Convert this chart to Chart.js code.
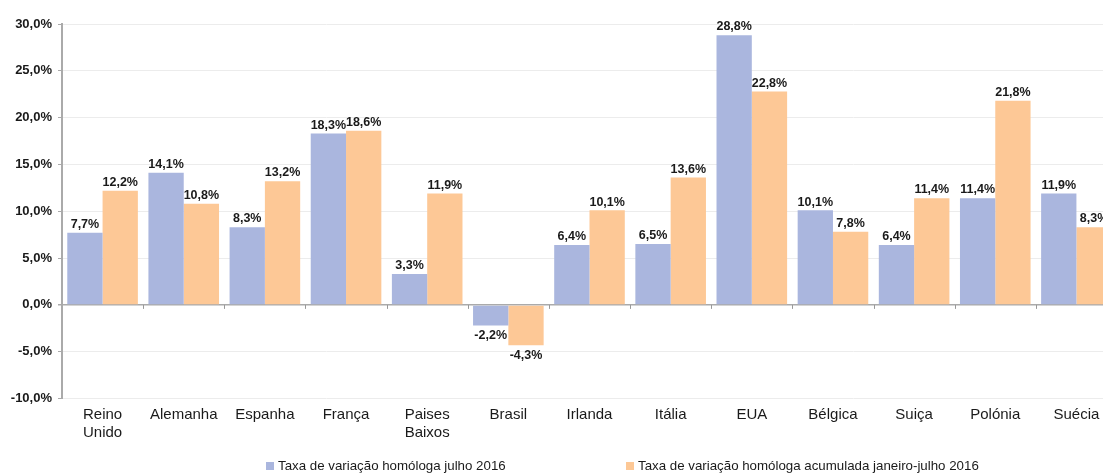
<!DOCTYPE html>
<html>
<head>
<meta charset="utf-8">
<script src="https://cdn.jsdelivr.net/npm/chart.js@4.4.1/dist/chart.umd.min.js"></script>
<style>
  html, body { margin: 0; padding: 0; background: #fff; overflow: hidden; }
  #wrap { width: 1120px; height: 475px; position: relative; }
</style>
</head>
<body>
<div id="wrap"><canvas id="chart"></canvas></div>
<script>
const countries = [['Reino', 'Unido'], 'Alemanha', 'Espanha', 'França', ['Paises', 'Baixos'], 'Brasil',
  'Irlanda', 'Itália', 'EUA', 'Bélgica', 'Suiça', 'Polónia', 'Suécia'];
const julho2016 = [7.7, 14.1, 8.3, 18.3, 3.3, -2.2, 6.4, 6.5, 28.8, 10.1, 6.4, 11.4, 11.9];
const acumulada2016 = [12.2, 10.8, 13.2, 18.6, 11.9, -4.3, 10.1, 13.6, 22.8, 7.8, 11.4, 21.8, 8.3];
const seriesNames = ['Taxa de variação homóloga julho 2016', 'Taxa de variação homóloga acumulada janeiro-julho 2016'];
const yTicks = [-10, -5, 0, 5, 10, 15, 20, 25, 30];

const BLUE = '#aab6de';
const ORANGE = '#fdc896';
const FONT = '"Liberation Sans", Arial, sans-serif';

function pct(v) {
  return v.toFixed(1).replace('.', ',') + '%';
}

// value labels above / below the bars
const valueLabels = {
  id: 'valueLabels',
  afterDatasetsDraw(chart) {
    const ctx = chart.ctx;
    ctx.save();
    ctx.font = 'bold 12.5px ' + FONT;
    ctx.fillStyle = '#1a1a1a';
    ctx.textAlign = 'center';
    chart.data.datasets.forEach((ds, i) => {
      chart.getDatasetMeta(i).data.forEach((bar, j) => {
        const v = ds.data[j];
        if (v >= 0) {
          ctx.textBaseline = 'bottom';
          ctx.fillText(pct(v), bar.x, bar.y - 2);
        } else {
          ctx.textBaseline = 'top';
          ctx.fillText(pct(v), bar.x, bar.y + 4);
        }
      });
    });
    ctx.restore();
  }
};

// small tick marks on the zero line and the legend at the bottom
const extras = {
  id: 'extras',
  afterDraw(chart) {
    const ctx = chart.ctx;
    const y0 = chart.scales.y.getPixelForValue(0);
    ctx.save();
    ctx.strokeStyle = '#999';
    ctx.lineWidth = 1;
    const n = chart.data.labels.length;
    const step = (chart.chartArea.right - chart.chartArea.left) / n;
    for (let i = 1; i <= n; i++) {
      const px = Math.round(chart.chartArea.left + i * step) + 0.5;
      ctx.beginPath();
      ctx.moveTo(px, y0);
      ctx.lineTo(px, y0 + 4);
      ctx.stroke();
    }

    // legend
    ctx.font = '13.3px ' + FONT;
    ctx.textBaseline = 'middle';
    ctx.textAlign = 'left';
    const ly = 466;
    const items = [[266, BLUE, seriesNames[0]], [626, ORANGE, seriesNames[1]]];
    items.forEach(([lx, col, txt]) => {
      ctx.fillStyle = col;
      ctx.fillRect(lx, ly - 4, 8, 8);
      ctx.fillStyle = '#1a1a1a';
      ctx.fillText(txt, lx + 12, ly);
    });
    ctx.restore();
  }
};

new Chart(document.getElementById('chart'), {
  type: 'bar',
  data: {
    labels: countries,
    datasets: [
      { label: seriesNames[0], data: julho2016, backgroundColor: BLUE },
      { label: seriesNames[1], data: acumulada2016, backgroundColor: ORANGE }
    ]
  },
  options: {
    responsive: true,
    maintainAspectRatio: false,
    animation: false,
    layout: { padding: { top: 24, right: 3, bottom: 34, left: 0 } },
    datasets: { bar: { categoryPercentage: 0.87, barPercentage: 1 } },
    plugins: {
      legend: { display: false },
      tooltip: { enabled: false }
    },
    scales: {
      x: {
        grid: { display: false },
        border: { display: false },
        ticks: {
          color: '#1a1a1a',
          font: { family: FONT, size: 15, lineHeight: 1.15 },
          padding: 0,
          maxRotation: 0,
          autoSkip: false
        }
      },
      y: {
        min: -10,
        max: 30,
        afterBuildTicks: (scale) => { scale.ticks = yTicks.map(v => ({ value: v })); },
        afterFit: (scale) => { scale.width = 62; },
        border: { color: '#aaa', width: 2 },
        grid: {
          color: (c) => c.tick && c.tick.value === 0 ? '#aaa' : '#ececec',
          lineWidth: (c) => c.tick && c.tick.value === 0 ? 1.5 : 1,
          tickLength: 4,
          tickColor: '#aaa'
        },
        ticks: {
          color: '#1a1a1a',
          font: { family: FONT, size: 13, weight: 'bold' },
          padding: 6,
          callback: (v) => pct(v)
        }
      }
    }
  },
  plugins: [valueLabels, extras]
});
</script>
</body>
</html>
